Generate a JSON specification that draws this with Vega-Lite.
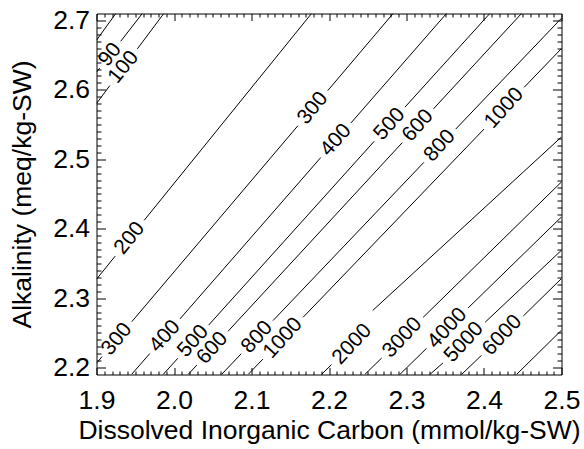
{
  "$schema": "https://vega.github.io/schema/vega-lite/v6.json",
  "width": 465,
  "height": 361,
  "autosize": {"type": "none"},
  "padding": {"left": 96.5, "top": 13.5, "right": 22.5, "bottom": 74.5},
  "background": "white",
  "config": {
    "view": {"stroke": "black", "strokeWidth": 1},
    "font": "Liberation Sans",
    "axis": {
      "domain": false,
      "grid": false,
      "labelFont": "Liberation Sans",
      "labelColor": "black",
      "labelFontSize": 26.5,
      "tickColor": "black",
      "tickWidth": 1,
      "titleFont": "Liberation Sans",
      "titleFontSize": 26.5,
      "titleFontWeight": "normal",
      "titleColor": "black",
      "labelFlush": false,
      "labelOverlap": false
    }
  },
  "datasets": {
    "contours": [
      {"seg": "80a", "ord": 0, "dic": 1.9, "alk": 2.67154}, {"seg": "80a", "ord": 1, "dic": 1.9249, "alk": 2.71},
      {"seg": "90a", "ord": 0, "dic": 1.9, "alk": 2.62545}, {"seg": "90a", "ord": 1, "dic": 1.90413, "alk": 2.63135},
      {"seg": "90b", "ord": 0, "dic": 1.93123, "alk": 2.66995}, {"seg": "90b", "ord": 1, "dic": 1.9591, "alk": 2.71},
      {"seg": "100a", "ord": 0, "dic": 1.9, "alk": 2.58036}, {"seg": "100a", "ord": 1, "dic": 1.91716, "alk": 2.60614},
      {"seg": "100b", "ord": 0, "dic": 1.95277, "alk": 2.65915}, {"seg": "100b", "ord": 1, "dic": 1.98684, "alk": 2.71},
      {"seg": "200a", "ord": 0, "dic": 1.9, "alk": 2.32727}, {"seg": "200a", "ord": 1, "dic": 1.92413, "alk": 2.36055},
      {"seg": "200b", "ord": 0, "dic": 1.96155, "alk": 2.41211}, {"seg": "200b", "ord": 1, "dic": 2.17742, "alk": 2.71},
      {"seg": "300a", "ord": 0, "dic": 1.9, "alk": 2.20627}, {"seg": "300a", "ord": 1, "dic": 1.9071, "alk": 2.21564},
      {"seg": "300b", "ord": 0, "dic": 1.94555, "alk": 2.26606}, {"seg": "300b", "ord": 1, "dic": 2.15987, "alk": 2.54838},
      {"seg": "300c", "ord": 0, "dic": 2.19832, "alk": 2.5988}, {"seg": "300c", "ord": 1, "dic": 2.28271, "alk": 2.71},
      {"seg": "400a", "ord": 0, "dic": 1.94516, "alk": 2.19}, {"seg": "400a", "ord": 1, "dic": 1.96877, "alk": 2.22025},
      {"seg": "400b", "ord": 0, "dic": 2.00774, "alk": 2.27008}, {"seg": "400b", "ord": 1, "dic": 2.18942, "alk": 2.50257},
      {"seg": "400c", "ord": 0, "dic": 2.22839, "alk": 2.55242}, {"seg": "400c", "ord": 1, "dic": 2.35161, "alk": 2.71},
      {"seg": "500a", "ord": 0, "dic": 1.98594, "alk": 2.19}, {"seg": "500a", "ord": 1, "dic": 2.0049, "alk": 2.21333},
      {"seg": "500b", "ord": 0, "dic": 2.04465, "alk": 2.26109}, {"seg": "500b", "ord": 1, "dic": 2.25832, "alk": 2.52591},
      {"seg": "500c", "ord": 0, "dic": 2.29806, "alk": 2.57518}, {"seg": "500c", "ord": 1, "dic": 2.40748, "alk": 2.71},
      {"seg": "600a", "ord": 0, "dic": 2.01819, "alk": 2.19}, {"seg": "600a", "ord": 1, "dic": 2.02942, "alk": 2.20355},
      {"seg": "600b", "ord": 0, "dic": 2.06968, "alk": 2.25223}, {"seg": "600b", "ord": 1, "dic": 2.29458, "alk": 2.52404},
      {"seg": "600c", "ord": 0, "dic": 2.33484, "alk": 2.57273}, {"seg": "600c", "ord": 1, "dic": 2.44839, "alk": 2.71},
      {"seg": "800a", "ord": 0, "dic": 2.06129, "alk": 2.19}, {"seg": "800a", "ord": 1, "dic": 2.08671, "alk": 2.21982},
      {"seg": "800b", "ord": 0, "dic": 2.12774, "alk": 2.26762}, {"seg": "800b", "ord": 1, "dic": 2.32245, "alk": 2.49566},
      {"seg": "800c", "ord": 0, "dic": 2.36348, "alk": 2.54348}, {"seg": "800c", "ord": 1, "dic": 2.5, "alk": 2.70323},
      {"seg": "1000a", "ord": 0, "dic": 2.09561, "alk": 2.19}, {"seg": "1000a", "ord": 1, "dic": 2.11471, "alk": 2.21219},
      {"seg": "1000b", "ord": 0, "dic": 2.16658, "alk": 2.27239}, {"seg": "1000b", "ord": 1, "dic": 2.4, "alk": 2.54348},
      {"seg": "1000c", "ord": 0, "dic": 2.45187, "alk": 2.60369}, {"seg": "1000c", "ord": 1, "dic": 2.5, "alk": 2.65958},
      {"seg": "2000a", "ord": 0, "dic": 2.19032, "alk": 2.19}, {"seg": "2000a", "ord": 1, "dic": 2.20323, "alk": 2.20426},
      {"seg": "2000b", "ord": 0, "dic": 2.25639, "alk": 2.2822}, {"seg": "2000b", "ord": 1, "dic": 2.5, "alk": 2.53225},
      {"seg": "3000a", "ord": 0, "dic": 2.24619, "alk": 2.19}, {"seg": "3000a", "ord": 1, "dic": 2.268, "alk": 2.21377},
      {"seg": "3000b", "ord": 0, "dic": 2.32142, "alk": 2.27224}, {"seg": "3000b", "ord": 1, "dic": 2.5, "alk": 2.46743},
      {"seg": "4000a", "ord": 0, "dic": 2.29135, "alk": 2.19}, {"seg": "4000a", "ord": 1, "dic": 2.32581, "alk": 2.2276},
      {"seg": "4000b", "ord": 0, "dic": 2.37948, "alk": 2.2858}, {"seg": "4000b", "ord": 1, "dic": 2.5, "alk": 2.41701},
      {"seg": "5000a", "ord": 0, "dic": 2.33006, "alk": 2.19}, {"seg": "5000a", "ord": 1, "dic": 2.34697, "alk": 2.20652},
      {"seg": "5000b", "ord": 0, "dic": 2.40142, "alk": 2.2652}, {"seg": "5000b", "ord": 1, "dic": 2.5, "alk": 2.36904},
      {"seg": "6000a", "ord": 0, "dic": 2.37097, "alk": 2.19}, {"seg": "6000a", "ord": 1, "dic": 2.39677, "alk": 2.21766},
      {"seg": "6000b", "ord": 0, "dic": 2.45071, "alk": 2.27423}, {"seg": "6000b", "ord": 1, "dic": 2.5, "alk": 2.32829},
      {"seg": "8000a", "ord": 0, "dic": 2.44194, "alk": 2.19}, {"seg": "8000a", "ord": 1, "dic": 2.5, "alk": 2.25381}
    ],
    "labels": [
      {"label": "90", "level": 90, "dic": 1.91768, "alk": 2.65066},
      {"label": "100", "level": 100, "dic": 1.93497, "alk": 2.63265},
      {"label": "200", "level": 200, "dic": 1.94284, "alk": 2.38633},
      {"label": "300", "level": 300, "dic": 1.92632, "alk": 2.24084},
      {"label": "300", "level": 300, "dic": 2.1791, "alk": 2.57359},
      {"label": "400", "level": 400, "dic": 1.98826, "alk": 2.24516},
      {"label": "400", "level": 400, "dic": 2.2089, "alk": 2.5275},
      {"label": "500", "level": 500, "dic": 2.02477, "alk": 2.23797},
      {"label": "500", "level": 500, "dic": 2.27819, "alk": 2.55054},
      {"label": "600", "level": 600, "dic": 2.04955, "alk": 2.22789},
      {"label": "600", "level": 600, "dic": 2.31471, "alk": 2.54838},
      {"label": "800", "level": 800, "dic": 2.10723, "alk": 2.24373},
      {"label": "800", "level": 800, "dic": 2.34297, "alk": 2.51957},
      {"label": "1000", "level": 1000, "dic": 2.14065, "alk": 2.24228},
      {"label": "1000", "level": 1000, "dic": 2.42594, "alk": 2.57359},
      {"label": "2000", "level": 2000, "dic": 2.22981, "alk": 2.23364},
      {"label": "3000", "level": 3000, "dic": 2.29471, "alk": 2.24301},
      {"label": "4000", "level": 4000, "dic": 2.35265, "alk": 2.25669},
      {"label": "5000", "level": 5000, "dic": 2.37419, "alk": 2.23653},
      {"label": "6000", "level": 6000, "dic": 2.42374, "alk": 2.24661}
    ]
  },
  "layer": [
    {
      "data": {"name": "contours"},
      "mark": {"type": "line", "color": "black", "strokeWidth": 1, "clip": true},
      "encoding": {
        "x": {
          "field": "dic", "type": "quantitative",
          "scale": {"domain": [1.9, 2.5], "nice": false, "zero": false},
          "axis": {
            "orient": "bottom",
            "values": [1.9, 2.0, 2.1, 2.2, 2.3, 2.4, 2.5],
            "format": ".1f",
            "tickSize": -7,
            "labelPadding": 20,
            "title": "Dissolved Inorganic Carbon (mmol/kg-SW)",
            "titleY": 64,
            "titleBaseline": "alphabetic"
          }
        },
        "y": {
          "field": "alk", "type": "quantitative",
          "scale": {"domain": [2.19, 2.71], "nice": false, "zero": false},
          "axis": {
            "orient": "left",
            "values": [2.2, 2.3, 2.4, 2.5, 2.6, 2.7],
            "format": ".1f",
            "tickSize": -9,
            "labelPadding": 16,
            "title": "Alkalinity (meq/kg-SW)",
            "titleAngle": 270,
            "titleX": -66,
            "titleBaseline": "alphabetic"
          }
        },
        "detail": {"field": "seg"},
        "order": {"field": "ord"}
      }
    },
    {
      "data": {"name": "labels"},
      "transform": [{"filter": "datum.level < 400"}],
      "mark": {"type": "text", "font": "Liberation Sans", "fontSize": 21, "angle": -51, "align": "center", "baseline": "middle", "color": "black"},
      "encoding": {
        "x": {"field": "dic", "type": "quantitative", "axis": {"orient": "top", "values": [1.9, 2.0, 2.1, 2.2, 2.3, 2.4, 2.5], "labels": false, "tickSize": -7, "title": null}},
        "y": {"field": "alk", "type": "quantitative", "axis": {"orient": "right", "values": [2.2, 2.3, 2.4, 2.5, 2.6, 2.7], "labels": false, "tickSize": -9, "title": null}},
        "text": {"field": "label"}
      }
    },
    {
      "data": {"name": "labels"},
      "transform": [{"filter": "datum.level >= 400 && datum.level <= 1000"}],
      "mark": {"type": "text", "font": "Liberation Sans", "fontSize": 21, "angle": -48, "align": "center", "baseline": "middle", "color": "black"},
      "encoding": {
        "x": {"field": "dic", "type": "quantitative", "axis": {"orient": "bottom", "values": [1.91, 1.92, 1.93, 1.94, 1.95, 1.96, 1.97, 1.98, 1.99, 2.01, 2.02, 2.03, 2.04, 2.05, 2.06, 2.07, 2.08, 2.09, 2.11, 2.12, 2.13, 2.14, 2.15, 2.16, 2.17, 2.18, 2.19, 2.21, 2.22, 2.23, 2.24, 2.25, 2.26, 2.27, 2.28, 2.29, 2.31, 2.32, 2.33, 2.34, 2.35, 2.36, 2.37, 2.38, 2.39, 2.41, 2.42, 2.43, 2.44, 2.45, 2.46, 2.47, 2.48, 2.49], "labels": false, "tickSize": -3.5, "title": null}},
        "y": {"field": "alk", "type": "quantitative", "axis": {"orient": "left", "values": [2.21, 2.22, 2.23, 2.24, 2.25, 2.26, 2.27, 2.28, 2.29, 2.31, 2.32, 2.33, 2.34, 2.35, 2.36, 2.37, 2.38, 2.39, 2.41, 2.42, 2.43, 2.44, 2.45, 2.46, 2.47, 2.48, 2.49, 2.51, 2.52, 2.53, 2.54, 2.55, 2.56, 2.57, 2.58, 2.59, 2.61, 2.62, 2.63, 2.64, 2.65, 2.66, 2.67, 2.68, 2.69], "labels": false, "tickSize": -4.5, "title": null}},
        "text": {"field": "label"}
      }
    },
    {
      "data": {"name": "labels"},
      "transform": [{"filter": "datum.level >= 2000"}],
      "mark": {"type": "text", "font": "Liberation Sans", "fontSize": 21, "angle": -47, "align": "center", "baseline": "middle", "color": "black"},
      "encoding": {
        "x": {"field": "dic", "type": "quantitative", "axis": {"orient": "top", "values": [1.91, 1.92, 1.93, 1.94, 1.95, 1.96, 1.97, 1.98, 1.99, 2.01, 2.02, 2.03, 2.04, 2.05, 2.06, 2.07, 2.08, 2.09, 2.11, 2.12, 2.13, 2.14, 2.15, 2.16, 2.17, 2.18, 2.19, 2.21, 2.22, 2.23, 2.24, 2.25, 2.26, 2.27, 2.28, 2.29, 2.31, 2.32, 2.33, 2.34, 2.35, 2.36, 2.37, 2.38, 2.39, 2.41, 2.42, 2.43, 2.44, 2.45, 2.46, 2.47, 2.48, 2.49], "labels": false, "tickSize": -3.5, "title": null}},
        "y": {"field": "alk", "type": "quantitative", "axis": {"orient": "right", "values": [2.21, 2.22, 2.23, 2.24, 2.25, 2.26, 2.27, 2.28, 2.29, 2.31, 2.32, 2.33, 2.34, 2.35, 2.36, 2.37, 2.38, 2.39, 2.41, 2.42, 2.43, 2.44, 2.45, 2.46, 2.47, 2.48, 2.49, 2.51, 2.52, 2.53, 2.54, 2.55, 2.56, 2.57, 2.58, 2.59, 2.61, 2.62, 2.63, 2.64, 2.65, 2.66, 2.67, 2.68, 2.69], "labels": false, "tickSize": -4.5, "title": null}},
        "text": {"field": "label"}
      }
    }
  ],
  "resolve": {"axis": {"x": "independent", "y": "independent"}}
}
